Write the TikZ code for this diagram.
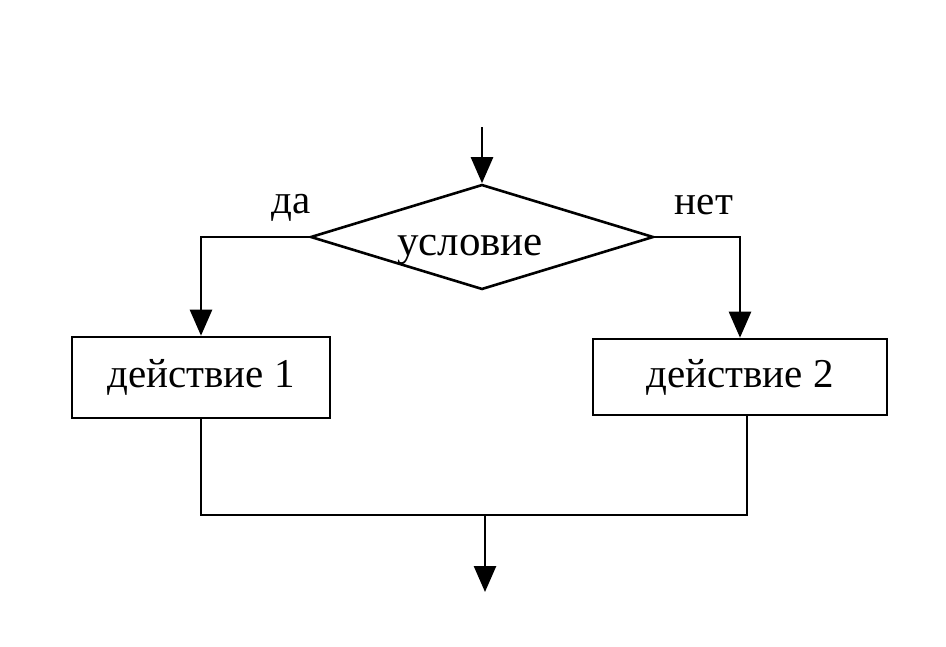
\documentclass[tikz,border=0pt]{standalone}
\usepackage{fontspec}
\setmainfont{Liberation Serif}
\usetikzlibrary{shapes.geometric,arrows.meta}
\tikzset{
  line/.style={line width=2.6pt,draw=black},
  arr/.style={line,-{Triangle[width=22pt,length=26pt]}},
  actbox/.style={draw=black,line width=2.6pt,rectangle,inner sep=0pt,font=\fontsize{41}{48}\selectfont},
  cond/.style={draw=black,line width=2.6pt,diamond,inner sep=0pt,aspect=3.27,minimum width=343pt,minimum height=105pt},
  lbl/.style={font=\fontsize{41}{48}\selectfont,inner sep=0pt}
}
\begin{document}
\begin{tikzpicture}[x=1pt,y=-1pt]
\useasboundingbox[fill=white] (0,0) rectangle (946,646);
\node[cond] (c) at (482,237) {};
\node[font=\fontsize{43}{50}\selectfont,inner sep=0pt] (ct) at (470,250) {условие};
\node[actbox,minimum width=258pt,minimum height=81pt] (a1) at (201,377.5) {\raisebox{3pt}{действие 1}};
\node[actbox,minimum width=294pt,minimum height=76pt] (a2) at (740,377) {\raisebox{2pt}{действие 2}};
\node[lbl] (yes) at (291,208) {да};
\node[lbl] (no) at (704,205) {нет};
\coordinate (start) at (482,127);
\coordinate (join) at (485,515);
\coordinate (finish) at (485,592);
\coordinate (a2out) at (747,415);
\draw[arr] (start) -- (c.north);
\draw[arr] (c.west) -| (a1.north);
\draw[arr] (c.east) -| (a2.north);
\draw[line] (a1.south) |- (join) -| (a2out);
\draw[arr] (join) -- (finish);
\end{tikzpicture}
\end{document}
